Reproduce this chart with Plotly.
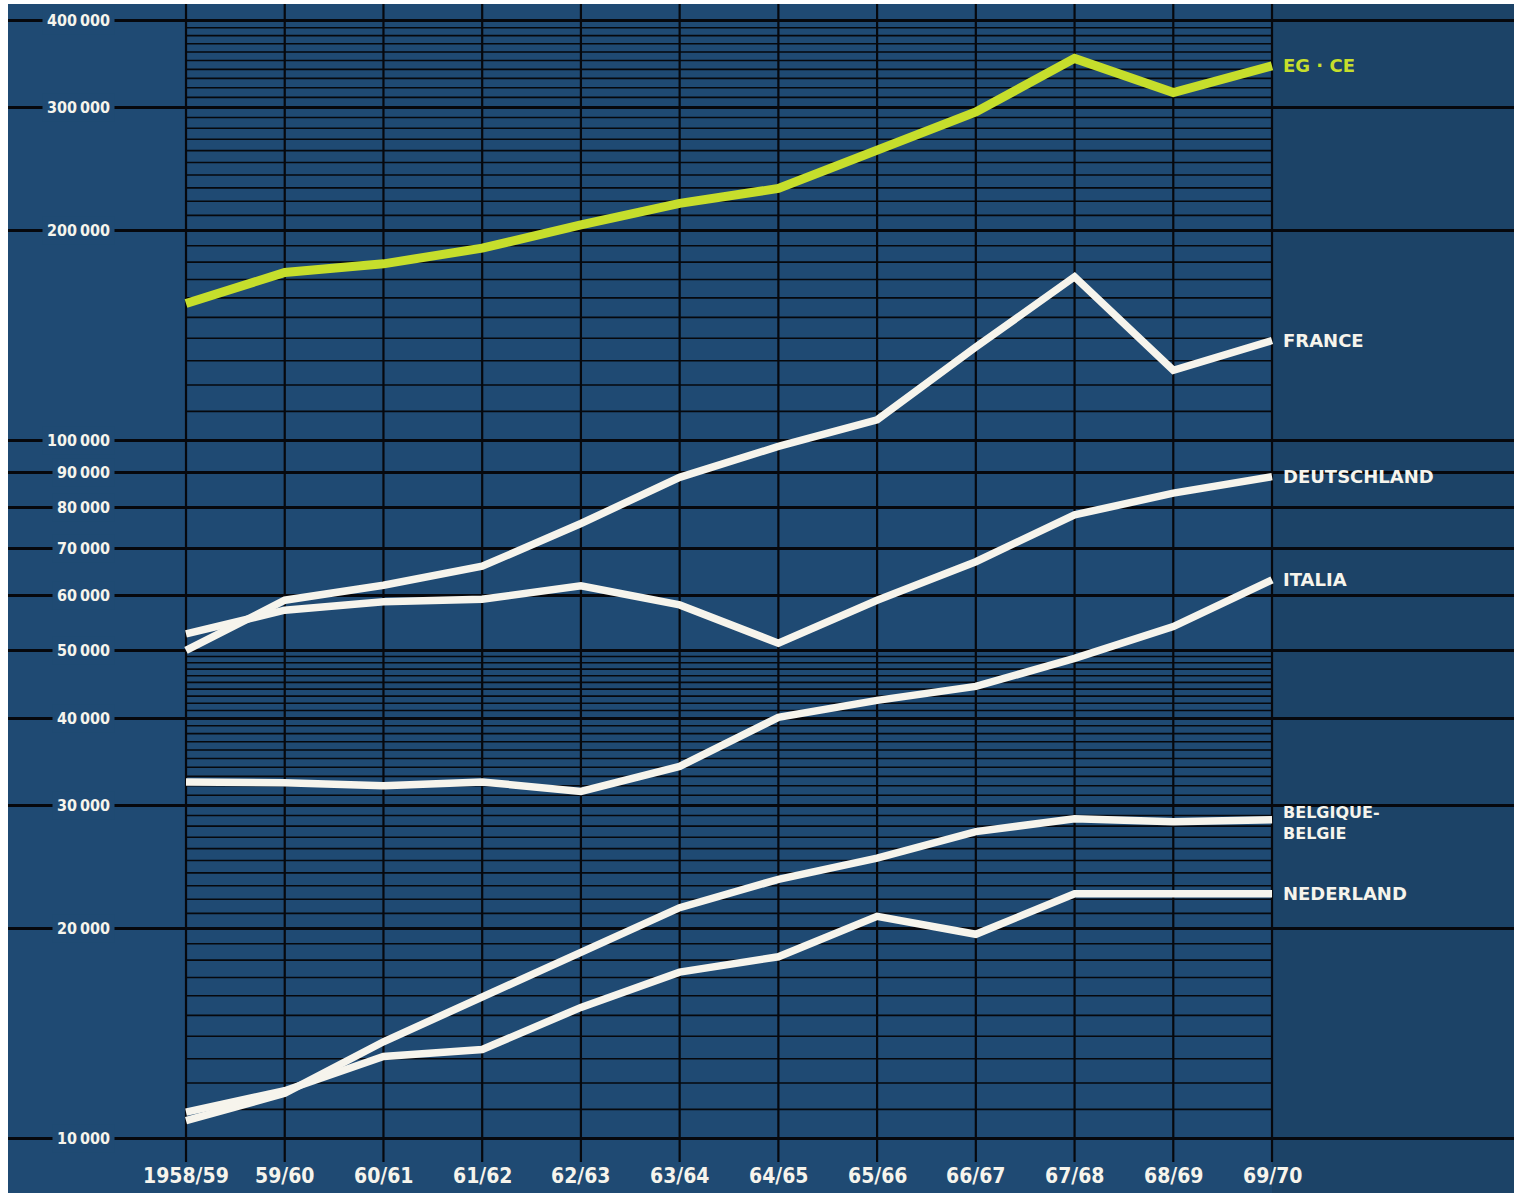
import math
import plotly.graph_objects as go

# ---------------- data ----------------
years = ["1958/59", "59/60", "60/61", "61/62", "62/63", "63/64",
         "64/65", "65/66", "66/67", "67/68", "68/69", "69/70"]

eg_ce = [157000, 174000, 179000, 188500, 203500, 218500,
         229500, 260500, 295500, 352500, 315000, 344000]
france = [50000, 59000, 62000, 66000, 76000, 88500,
          98000, 107000, 136000, 171500, 126000, 139000]
deutschland = [52800, 57100, 58700, 59200, 61900, 58100,
               51200, 59000, 67000, 78200, 84000, 88700]
italia = [32400, 32300, 32000, 32400, 31400, 34100,
          40100, 42400, 44400, 48700, 54100, 63100]
belgique = [10600, 11600, 13750, 15900, 18400, 21400,
            23500, 25200, 27500, 28700, 28400, 28600]
nederland = [10900, 11700, 13100, 13400, 15400, 17300,
             18200, 20800, 19600, 22400, 22400, 22400]

major_ticks = [10000, 20000, 30000, 40000, 50000, 60000, 70000,
               80000, 90000, 100000, 200000, 300000, 400000]
major_labels = ["10\u2009000", "20\u2009000", "30\u2009000", "40\u2009000", "50\u2009000",
                "60\u2009000", "70\u2009000", "80\u2009000", "90\u2009000", "100\u2009000",
                "200\u2009000", "300\u2009000", "400\u2009000"]
minor_ticks = ([v * 1000 for v in range(11, 20)] + [v * 1000 for v in range(21, 30)] +
               [v * 1000 for v in range(31, 40)] + [v * 1000 for v in range(41, 50)] +
               [v * 10000 for v in range(11, 20)] + [v * 10000 for v in range(21, 30)] +
               [v * 10000 for v in range(31, 40)])

# ---------------- styles ----------------
BG = "#1f4a73"
BG_RIGHT = "#1c4367"
GRID = "#06080d"
WHITE = "#f6f4ec"
LIME = "#c6de2c"
COND = "DejaVu Sans Condensed, Liberation Sans Narrow, DejaVu Sans, sans-serif"
LBL = "DejaVu Sans, Open Sans, sans-serif"

W, H = 1522, 1193
L, R, T, B = 8, 8, 4, 0
PW, PH = W - L - R, H - T - B
X_RANGE = [-1.803, 13.451]
Y_RANGE = [3.9216, 5.6251]

xi = list(range(len(years)))
last = len(years) - 1

fig = go.Figure()

# minor grid lines, only inside the data area
mx, my = [], []
for v in minor_ticks:
    mx += [0, last, None]
    my += [v, v, None]
fig.add_trace(go.Scatter(x=mx, y=my, mode="lines",
                         line=dict(color=GRID, width=1.6),
                         hoverinfo="skip", showlegend=False))

def add_line(vals, color, width):
    fig.add_trace(go.Scatter(x=xi, y=vals, mode="lines",
                             line=dict(color=color, width=width),
                             hoverinfo="skip", showlegend=False))

add_line(nederland, WHITE, 7.5)
add_line(belgique, WHITE, 7.5)
add_line(italia, WHITE, 7.5)
add_line(deutschland, WHITE, 7.5)
add_line(france, WHITE, 7.5)
add_line(eg_ce, LIME, 9)

shapes = []
shapes.append(dict(type="rect", xref="x", yref="paper", x0=last, x1=X_RANGE[1],
                   y0=0, y1=1, fillcolor=BG_RIGHT, line=dict(width=0), layer="below"))
y_bottom = (H - 1162) / PH
for i in xi:
    shapes.append(dict(type="line", xref="x", yref="paper", x0=i, x1=i,
                       y0=y_bottom, y1=1, line=dict(color=GRID, width=2.2), layer="below"))

annotations = []
for v, t in zip(major_ticks, major_labels):
    annotations.append(dict(xref="paper", yref="y", x=(115 - L) / PW, y=math.log10(v),
                            xanchor="right", yanchor="middle", text=t, showarrow=False,
                            bgcolor=BG, borderpad=4,
                            font=dict(family=COND, size=16, color=WHITE, weight="bold")))
for i, t in zip(xi, years):
    annotations.append(dict(xref="x", yref="paper", x=i, y=(H - 1176) / PH,
                            xanchor="center", yanchor="middle", text=t, showarrow=False,
                            font=dict(family=COND, size=21, color=WHITE, weight="bold")))
lab = [(eg_ce, "EG · CE", LIME, 0), (france, "FRANCE", WHITE, 0),
       (deutschland, "DEUTSCHLAND", WHITE, 0), (italia, "ITALIA", WHITE, 0),
       (belgique, "BELGIQUE-<br>BELGIE", WHITE, -3),
       (nederland, "NEDERLAND", WHITE, 0)]
for vals, t, c, ys in lab:
    annotations.append(dict(xref="x", yref="y", x=last, y=math.log10(vals[-1]),
                            xanchor="left", yanchor="middle", xshift=9, yshift=ys,
                            text=t, showarrow=False, align="left",
                            font=dict(family=LBL, size=18 if "<br>" not in t else 16,
                                      color=c, weight="bold")))

fig.update_layout(
    width=W, height=H,
    margin=dict(l=L, r=R, t=T, b=B, pad=0),
    paper_bgcolor="white", plot_bgcolor=BG,
    showlegend=False,
    xaxis=dict(range=X_RANGE, showgrid=False, zeroline=False, showticklabels=False,
               ticks="", showline=False, fixedrange=True),
    yaxis=dict(type="log", range=Y_RANGE, tickmode="array", tickvals=major_ticks,
               showticklabels=False, ticks="", showgrid=True, gridcolor=GRID,
               gridwidth=2.5, zeroline=False, showline=False, fixedrange=True),
    shapes=shapes, annotations=annotations,
)

fig.write_html("out.html", config={"displayModeBar": False},
               post_script="document.body.style.margin='0';")
